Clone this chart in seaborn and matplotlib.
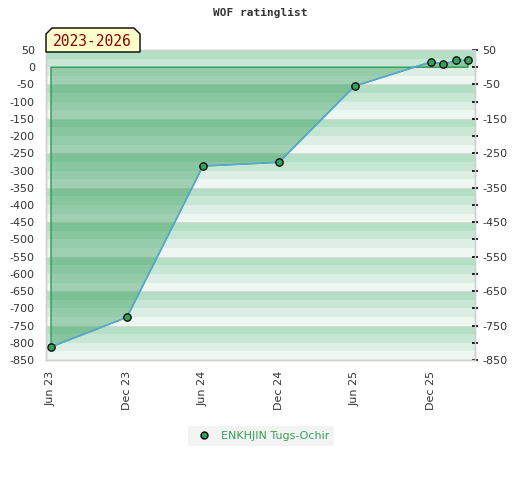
import numpy as np
import pandas as pd
import matplotlib
matplotlib.use("Agg")
import matplotlib.pyplot as plt
from matplotlib.patches import Polygon
from matplotlib.lines import Line2D
import seaborn as sns

# ---- data ----
months = ["2023-06-01", "2023-12-01", "2024-06-01", "2024-12-01", "2025-06-01",
          "2025-12-01", "2026-01-01", "2026-02-01", "2026-03-01"]
ratings = [-812, -726, -287, -276, -55, 15, 9, 20, 20]
player = "ENKHJIN Tugs-Ochir"
period_label = "2023-2026"
title = "WOF ratinglist"
tick_dates = ["2023-06-01", "2023-12-01", "2024-06-01", "2024-12-01", "2025-06-01", "2025-12-01"]
tick_labels = ["Jun 23", "Dec 23", "Jun 24", "Dec 24", "Jun 25", "Dec 25"]

df = pd.DataFrame({"date": pd.to_datetime(months), "rating": ratings})

sns.set_theme(style="white")
plt.rcParams["font.family"] = ["DejaVu Sans"]

fig = plt.figure(figsize=(5.2, 4.8), dpi=100)
ax = fig.add_axes([46 / 520, 120 / 480, 429 / 520, 310 / 480])

ymin, ymax = -850, 50
# striped background, 4 bands per 100 points
band_colors = ["#b3dfc4", "#c7e7d4", "#ddefe4", "#eff7f2"]
top = ymax
i = 0
while top > ymin:
    ax.axhspan(top - 25, top, color=band_colors[i % 4], lw=0, zorder=0)
    top -= 25
    i += 1
for y in np.arange(-50, ymin, -100):
    ax.axhline(y, color="#d8d8d8", lw=0.8, zorder=0.5)

ax.fill_between(df["date"], df["rating"], 0, facecolor="#289650", alpha=0.4,
                edgecolor="none", zorder=1)
ax.fill_between(df["date"], df["rating"], 0, facecolor="none",
                edgecolor="#2e9a55", lw=1, zorder=1.5)

sns.lineplot(data=df, x="date", y="rating", ax=ax, color="#5aa5e6", lw=1,
             zorder=2, legend=False)
sns.scatterplot(data=df, x="date", y="rating", ax=ax, color="#35a058",
                edgecolor="black", linewidth=0.9, s=28, zorder=3, legend=False)

ax.set_xlim(pd.Timestamp("2023-05-20"), pd.Timestamp("2026-03-18"))
ax.set_ylim(ymin, ymax)
ax.set_xlabel("")
ax.set_ylabel("")

ax.set_xticks(pd.to_datetime(tick_dates))
ax.set_xticklabels(tick_labels, rotation=90, fontsize=8, color="#333333")
ax.tick_params(axis="x", length=0, pad=8)

yt = np.arange(50, -851, -50)
ax.set_yticks(yt)
ax.set_yticklabels([str(v) for v in yt], fontsize=8, color="#333333")
ax.tick_params(axis="y", length=0, pad=8)

ax2 = ax.twinx()
ax2.set_ylim(ymin, ymax)
ax2.set_yticks(yt)
ax2.set_yticklabels([str(v) if (v - 50) % 100 == 0 else "" for v in yt],
                    fontsize=8, color="#333333")
ax2.tick_params(axis="y", direction="inout", length=5, width=1.2, color="black", pad=3)

for a in (ax, ax2):
    for s in a.spines.values():
        s.set_color("#d0d0d0")
        s.set_linewidth(1)

fig.text(260 / 520, 1 - 13 / 480, title, ha="center", va="center",
         fontsize=8, fontweight="bold", family="DejaVu Sans Mono", color="#333333")

# period tag with clipped top corners
px = [46, 46, 52, 134, 140, 140]
py = [52, 34, 28, 28, 34, 52]
tag = Polygon([(x / 520, 1 - y / 480) for x, y in zip(px, py)], closed=True,
              transform=fig.transFigure, facecolor="#ffffcc", edgecolor="black",
              lw=1, zorder=5)
fig.patches.append(tag)
fig.text(92 / 520, 1 - 41 / 480, period_label, ha="center", va="center",
         fontsize=10.5, family="DejaVu Sans Mono", color="#8b0000", zorder=6)

handle = Line2D([], [], ls="none", marker="o", markersize=5, markerfacecolor="#35a058",
                markeredgecolor="black")
leg = fig.legend([handle], [player], loc="center", bbox_to_anchor=(261 / 520, 1 - 436 / 480),
                 frameon=True, fontsize=8, handletextpad=0.5, borderpad=0.45,
                 fancybox=False)
leg.get_frame().set_facecolor("#f0f0f0")
leg.get_frame().set_edgecolor("none")
for t in leg.get_texts():
    t.set_color("#35a058")

fig.savefig("out.png", dpi=100)
